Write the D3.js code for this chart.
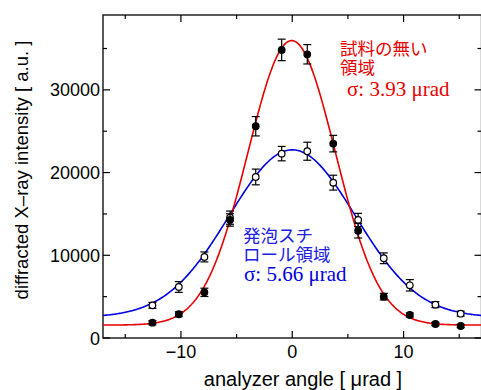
<!DOCTYPE html>
<html>
<head>
<meta charset="utf-8">
<script src="https://cdn.jsdelivr.net/npm/d3@7"></script>
<style>
  body { margin: 0; background: #fff; }
  svg { display: block; }
  text { font-family: "Liberation Sans", Arial, sans-serif; }
</style>
</head>
<body>
<svg width="481" height="390"></svg>
<script>
// analyzer angle positions (µrad)
var angles = [-12.56, -10.19, -7.89, -5.59, -3.28, -0.95, 1.35, 3.68, 5.92, 8.22, 10.56, 12.86, 15.13];

// sample-free region (filled, red fit)
var freeVals = [1850, 2870, 5520, 14270, 25600, 34830, 34300, 23500, 12980, 5000, 2780, 1690, 1450];
var freeErrs = [250, 300, 500, 750, 1170, 1300, 1170, 1000, 890, 400, 250, 200, 200];

// styrofoam region (open, blue fit)
var foamVals = [3950, 6170, 9800, 14550, 19470, 22290, 22580, 18780, 14270, 9640, 6370, 4030, 2940];
var foamErrs = [350, 650, 600, 800, 950, 870, 1090, 900, 800, 650, 690, 360, 300];

// gaussian fit parameters: [baseline, amplitude, centre, sigma]
var freeFit = [1560, 34400, -0.05, 3.93];
var foamFit = [2500, 20250, 0.0, 5.66];

var xTicks = [-10, 0, 10];
var yTicks = [0, 10000, 20000, 30000];

var svg = d3.select('svg');
var pL = 103, pR = 481.5, pT = 15, pB = 338;

var x = d3.scaleLinear().domain([-17, 17]).range([pL, pR]);
var y = d3.scaleLinear().domain([0, 39050]).range([pB, pT]);

// frame
svg.append('rect')
    .attr('x', pL).attr('y', pT)
    .attr('width', pR - pL).attr('height', pB - pT)
    .attr('fill', 'none').attr('stroke', '#000').attr('stroke-width', 1.3);

// ticks (inward, all four sides)
var xMinor = d3.range(-15, 17, 5);
var yMinor = d3.range(5000, 39000, 10000);
var tk = svg.append('g').attr('stroke', '#000').attr('stroke-width', 1.2);
xMinor.forEach(function(v) {
  var len = (v % 10 === 0) ? 7 : 4;
  tk.append('line').attr('x1', x(v)).attr('x2', x(v)).attr('y1', pB).attr('y2', pB - len);
  tk.append('line').attr('x1', x(v)).attr('x2', x(v)).attr('y1', pT).attr('y2', pT + len);
});
yTicks.concat(yMinor).forEach(function(v) {
  var len = (v % 10000 === 0) ? 7 : 4;
  tk.append('line').attr('x1', pL).attr('x2', pL + len).attr('y1', y(v)).attr('y2', y(v));
  tk.append('line').attr('x1', pR).attr('x2', pR - len).attr('y1', y(v)).attr('y2', y(v));
});

// tick labels
svg.selectAll('.xl').data(xTicks).enter().append('text')
    .attr('x', function(d) { return x(d); })
    .attr('y', 358)
    .attr('text-anchor', 'middle')
    .attr('font-size', 18)
    .text(function(d) { return d < 0 ? '\u2212' + Math.abs(d) : d; });

svg.selectAll('.yl').data(yTicks).enter().append('text')
    .attr('x', 100)
    .attr('y', function(d) { return y(d) + 6.5; })
    .attr('text-anchor', 'end')
    .attr('font-size', 18)
    .text(function(d) { return d; });

// axis titles
svg.append('text')
    .attr('x', 303).attr('y', 386)
    .attr('text-anchor', 'middle').attr('font-size', 20)
    .text('analyzer angle [ \u03bcrad ]');

svg.append('text')
    .attr('transform', 'translate(28,170) rotate(-90)')
    .attr('text-anchor', 'middle').attr('font-size', 18.5)
    .text('diffracted X\u2013ray intensity [ a.u. ]');

// fit curves
svg.append('clipPath').attr('id', 'plotclip')
  .append('rect').attr('x', pL).attr('y', pT).attr('width', pR - pL).attr('height', pB - pT);

function gauss(p) {
  return function(t) { return p[0] + p[1] * Math.exp(-(t - p[2]) * (t - p[2]) / (2 * p[3] * p[3])); };
}
var grid = d3.range(-17, 17.01, 0.1);
var line = d3.line().x(function(d) { return x(d[0]); }).y(function(d) { return y(d[1]); });

[[foamFit, '#0000e0'], [freeFit, '#e80000']].forEach(function(f) {
  var g = gauss(f[0]);
  svg.append('path')
      .attr('clip-path', 'url(#plotclip)')
      .attr('d', line(grid.map(function(t) { return [t, g(t)]; })))
      .attr('fill', 'none').attr('stroke', f[1]).attr('stroke-width', 1.6);
});

// data points with error bars
function drawSeries(vals, errs, filled) {
  var g = svg.append('g');
  angles.forEach(function(a, i) {
    var cx = x(a), lo = y(vals[i] - errs[i]), hi = y(vals[i] + errs[i]);
    g.append('line').attr('x1', cx).attr('x2', cx).attr('y1', lo).attr('y2', hi)
        .attr('stroke', '#000').attr('stroke-width', 1.2);
    [lo, hi].forEach(function(yy) {
      g.append('line').attr('x1', cx - 4).attr('x2', cx + 4).attr('y1', yy).attr('y2', yy)
          .attr('stroke', '#000').attr('stroke-width', 1.2);
    });
    g.append('circle').attr('cx', cx).attr('cy', y(vals[i])).attr('r', 3.3)
        .attr('fill', filled ? '#000' : '#fff')
        .attr('stroke', '#000').attr('stroke-width', 1.2);
  });
}
drawSeries(foamVals, foamErrs, false);
drawSeries(freeVals, freeErrs, true);

// annotations
var cjk = '"Noto Sans CJK JP", sans-serif';
var serif = '"Liberation Serif", "Times New Roman", serif';
function label(tx, ty, str, col, fam, size) {
  svg.append('text').attr('x', tx).attr('y', ty)
      .attr('fill', col).attr('font-size', size)
      .style('font-family', fam).text(str);
}
label(340, 55, '試料の無い', '#e80000', cjk, 17.5);
label(340, 74, '領域', '#e80000', cjk, 17.5);
label(347, 96, 'σ: 3.93 μrad', '#e80000', serif, 21);

label(243, 242, '発泡スチ', '#2020e0', cjk, 17.5);
label(243, 261, 'ロール領域', '#2020e0', cjk, 17.5);
label(244, 281, 'σ: 5.66 μrad', '#0000e0', serif, 21);
</script>
</body>
</html>
